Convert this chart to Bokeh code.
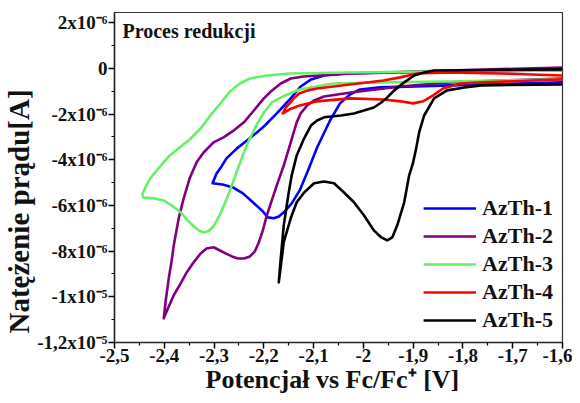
from bokeh.plotting import figure
from bokeh.models import Range1d, FixedTicker, Label, Title
from bokeh.embed import file_html
from bokeh.resources import INLINE

# ---- data (potential in V vs Fc/Fc+, current in microamperes) ----
azth1_v = [-1.6, -1.826, -1.966, -2.007, -2.027, -2.047, -2.067, -2.093, -2.111, -2.128, -2.144, -2.158,
           -2.170, -2.180, -2.192, -2.202, -2.222, -2.242, -2.262, -2.283, -2.303,
           -2.299, -2.295, -2.285, -2.275, -2.254, -2.234, -2.214, -2.200, -2.174, -2.146, -2.126, -2.105,
           -2.079, -2.033, -1.826, -1.6]
azth1_i = [-0.61, -0.74, -0.83, -0.92, -1.14, -1.53, -2.28, -3.46, -4.46, -5.34, -5.91, -6.26,
           -6.48, -6.56, -6.52, -6.26, -5.86, -5.47, -5.21, -5.08, -5.03,
           -4.81, -4.60, -4.29, -3.94, -3.50, -3.15, -2.80, -2.54, -1.97, -1.31, -0.79, -0.48,
           -0.31, -0.22, -0.13, -0.09]

azth2_v = [-1.6, -1.826, -1.926, -2.025, -2.079, -2.099, -2.113, -2.126, -2.134, -2.146, -2.160, -2.174,
           -2.184, -2.194, -2.202, -2.210, -2.218, -2.228, -2.240, -2.252, -2.264, -2.277, -2.289,
           -2.301, -2.315, -2.327, -2.341, -2.355, -2.367, -2.381, -2.391, -2.401,
           -2.397, -2.391, -2.385, -2.381, -2.371, -2.361, -2.349, -2.335, -2.321, -2.301, -2.281,
           -2.260, -2.240, -2.220, -2.200, -2.186, -2.166, -2.146, -2.120, -2.027, -1.826, -1.6]
azth2_i = [-0.44, -0.61, -0.79, -1.05, -1.23, -1.40, -1.62, -1.97, -2.36, -3.24, -4.25, -5.12,
           -5.78, -6.43, -7.09, -7.61, -8.01, -8.23, -8.32, -8.32, -8.23, -8.10, -7.96,
           -7.83, -7.88, -8.10, -8.49, -8.93, -9.41, -9.93, -10.42, -10.94,
           -10.15, -9.19, -8.40, -7.75, -6.56, -5.69, -4.81, -4.11, -3.68, -3.24, -3.02,
           -2.71, -2.36, -1.84, -1.31, -1.01, -0.66, -0.44, -0.35, -0.22, -0.09, 0.04]

azth3_v = [-1.6, -1.826, -1.960, -2.061, -2.128, -2.162, -2.184, -2.200, -2.214, -2.228, -2.240, -2.252,
           -2.262, -2.272, -2.281, -2.289, -2.301, -2.311, -2.321, -2.331, -2.341, -2.355, -2.367,
           -2.385, -2.401, -2.421, -2.442,
           -2.444, -2.436, -2.428, -2.410, -2.389, -2.369, -2.349, -2.327, -2.309, -2.289, -2.268,
           -2.248, -2.228, -2.194, -2.148, -2.027, -1.826, -1.6]
azth3_i = [-0.48, -0.57, -0.61, -0.66, -0.92, -1.23, -1.49, -1.93, -2.45, -3.06, -3.68, -4.38,
           -4.99, -5.56, -6.04, -6.43, -6.91, -7.13, -7.18, -7.09, -6.91, -6.61, -6.30,
           -6.00, -5.78, -5.69, -5.65,
           -5.51, -5.12, -4.81, -4.33, -3.81, -3.46, -3.11, -2.63, -2.10, -1.58, -1.01,
           -0.66, -0.44, -0.31, -0.22, -0.18, -0.13, -0.09]

azth4_v = [-1.6, -1.759, -1.805, -1.840, -1.860, -1.880, -1.900, -1.926, -1.960, -2.027, -2.093, -2.128,
           -2.148, -2.162,
           -2.156, -2.148, -2.138, -2.128, -2.111, -2.093, -2.027, -1.960, -1.926, -1.892, -1.826,
           -1.725, -1.6]
azth4_i = [-0.48, -0.61, -0.66, -0.88, -1.18, -1.44, -1.53, -1.44, -1.36, -1.31, -1.44, -1.62,
           -1.79, -1.97,
           -1.71, -1.53, -1.27, -1.09, -0.96, -0.88, -0.70, -0.53, -0.39, -0.22, -0.18,
           -0.22, -0.31]

azth5_v = [-1.6, -1.763, -1.797, -1.832, -1.858, -1.878, -1.888, -1.894, -1.900, -1.908, -1.918, -1.932,
           -1.942, -1.952, -1.964, -1.979, -1.999, -2.019, -2.039, -2.059, -2.079, -2.099, -2.119,
           -2.134, -2.146, -2.160, -2.170,
           -2.166, -2.160, -2.150, -2.144, -2.134, -2.119, -2.105, -2.093, -2.079, -2.045, -2.019,
           -1.999, -1.979, -1.964, -1.952, -1.938, -1.918, -1.898, -1.878, -1.858, -1.6]
azth5_i = [-0.70, -0.74, -0.83, -0.96, -1.31, -2.06, -2.80, -3.50, -4.11, -4.68, -5.86, -6.87,
           -7.40, -7.53, -7.40, -7.09, -6.43, -5.86, -5.43, -5.03, -4.95, -5.03, -5.43,
           -5.86, -6.56, -7.61, -9.37,
           -8.32, -6.87, -5.43, -4.68, -3.81, -3.06, -2.49, -2.28, -2.14, -2.06, -1.97,
           -1.84, -1.71, -1.49, -1.27, -0.96, -0.61, -0.31, -0.18, -0.09, -0.04]

series_names = ["AzTh-1", "AzTh-2", "AzTh-3", "AzTh-4", "AzTh-5"]
series_colors = ["#0000ff", "#800080", "#66f066", "#ff0000", "#000000"]

x_ticks = [-2.5, -2.4, -2.3, -2.2, -2.1, -2.0, -1.9, -1.8, -1.7, -1.6]
x_tick_labels = ["-2,5", "-2,4", "-2,3", "-2,2", "-2,1", "-2", "-1,9", "-1,8", "-1,7", "-1,6"]
y_ticks = [2, 0, -2, -4, -6, -8, -10, -12]
y_tick_labels = ["2x10\u207b\u2076", "0", "-2x10\u207b\u2076", "-4x10\u207b\u2076", "-6x10\u207b\u2076",
                 "-8x10\u207b\u2076", "-1x10\u207b\u2075", "-1,2x10\u207b\u2075"]

FONT = "Liberation Serif"

p = figure(width=572, height=400, output_backend="svg", toolbar_location=None,
           x_range=Range1d(-2.5, -1.6), y_range=Range1d(-12, 2.45),
           min_border_left=114, min_border_right=10, min_border_top=12, min_border_bottom=58)
p.xgrid.visible = False
p.ygrid.visible = False
p.outline_line_color = "#333333"
p.outline_line_width = 1.2
p.background_fill_color = "white"
p.border_fill_color = "white"

xs = [azth1_v, azth2_v, azth3_v, azth4_v, azth5_v]
ys = [azth1_i, azth2_i, azth3_i, azth4_i, azth5_i]
for xv, yv, name, col in zip(xs, ys, series_names, series_colors):
    p.line(xv, yv, line_color=col, line_width=2.6, line_join="round", legend_label=name)

p.xaxis.ticker = FixedTicker(ticks=x_ticks, minor_ticks=[t + 0.05 for t in x_ticks[:-1]])
p.xaxis.major_label_overrides = {t: l for t, l in zip(x_ticks, x_tick_labels)}
p.yaxis.ticker = FixedTicker(ticks=y_ticks, minor_ticks=[t - 1 for t in y_ticks[:-1]])
p.yaxis.major_label_overrides = {t: l for t, l in zip(y_ticks, y_tick_labels)}

for ax in (p.xaxis, p.yaxis):
    ax.axis_line_width = 1.5
    ax.axis_line_color = "#222222"
    ax.major_tick_in = 0
    ax.major_tick_out = 6
    ax.minor_tick_in = 0
    ax.minor_tick_out = 3
    ax.major_tick_line_width = 1.5
    ax.minor_tick_line_width = 1.2
    ax.major_label_text_font = FONT
    ax.major_label_text_font_style = "bold"
    ax.major_label_text_font_size = "19px"
    ax.major_label_text_color = "#111111"
p.xaxis.major_label_standoff = 0
p.yaxis.major_label_standoff = 1

# axis titles as side-panel titles so they can be offset like in the original
x_title = Title(text="Potencjał vs Fc/Fc\u207a [V]", align="left", offset=91, vertical_align="top",
                standoff=0, text_font=FONT, text_font_style="bold", text_font_size="26px",
                text_color="#111111")
y_title = Title(text="Natężenie prądu[A]", align="left", offset=9, vertical_align="bottom",
                standoff=0, text_font=FONT, text_font_style="bold", text_font_size="29px",
                text_color="#111111")
p.add_layout(x_title, "below")
p.add_layout(y_title, "left")

title = Label(x=-2.484, y=1.66, text="Proces redukcji", text_font=FONT, text_font_style="bold",
              text_font_size="20px", text_baseline="middle", text_color="#111111")
p.add_layout(title)

lg = p.legend[0]
lg.location = "bottom_right"
lg.border_line_color = None
lg.background_fill_alpha = 0
lg.label_text_font = FONT
lg.label_text_font_style = "bold"
lg.label_text_font_size = "22px"
lg.label_text_color = "#111111"
lg.glyph_width = 53
lg.glyph_height = 22
lg.label_standoff = 6
lg.spacing = 2
lg.padding = 2
lg.margin = 9

open("out.html", "w").write(file_html(p, INLINE))
